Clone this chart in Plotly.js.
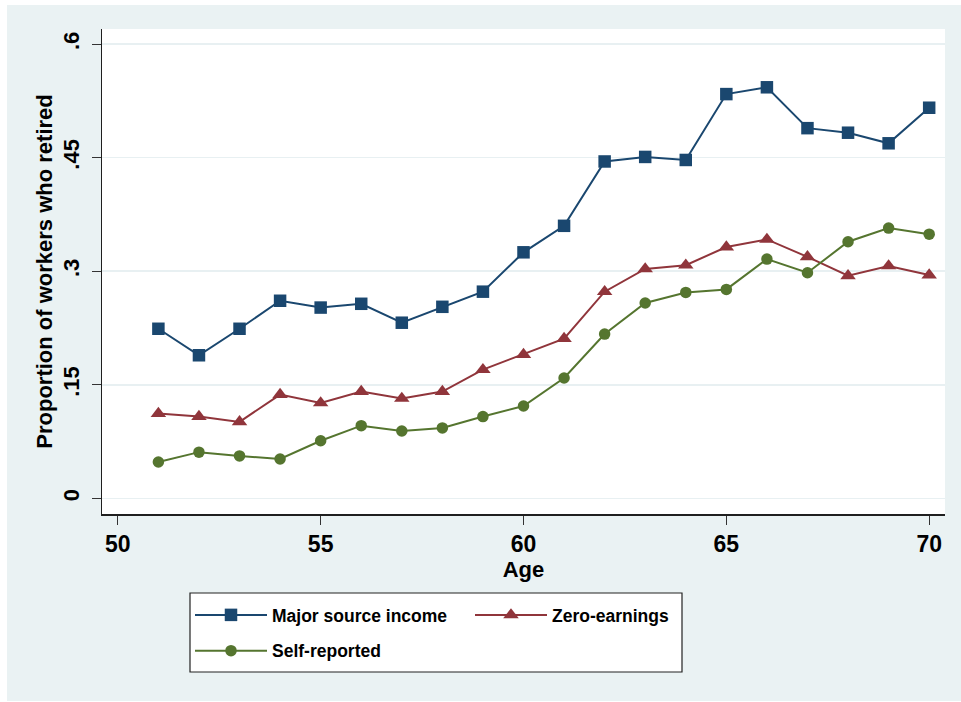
<!DOCTYPE html>
<html>
<head>
<meta charset="utf-8">
<script src="https://cdn.plot.ly/plotly-3.0.1.min.js"></script>
<style>
  html, body { margin: 0; padding: 0; background: #ffffff; }
  #chart { position: absolute; left: 7px; top: 5px; width: 954px; height: 696px; }
</style>
</head>
<body>
<div id="chart"></div>
<script>
// ---- data ----
const ages = [51, 52, 53, 54, 55, 56, 57, 58, 59, 60, 61, 62, 63, 64, 65, 66, 67, 68, 69, 70];
const majorSource = [0.224, 0.189, 0.224, 0.261, 0.252, 0.257, 0.232, 0.253, 0.273, 0.325,
                     0.360, 0.445, 0.451, 0.447, 0.534, 0.543, 0.489, 0.483, 0.469, 0.516];
const zeroEarnings = [0.112, 0.108, 0.101, 0.137, 0.126, 0.141, 0.132, 0.141, 0.170, 0.190,
                      0.211, 0.273, 0.303, 0.308, 0.332, 0.342, 0.319, 0.294, 0.307, 0.295];
const selfReported = [0.048, 0.061, 0.056, 0.052, 0.076, 0.096, 0.089, 0.093, 0.108, 0.122,
                      0.159, 0.217, 0.258, 0.272, 0.276, 0.316, 0.298, 0.339, 0.357, 0.349];
const seriesNames = ["Major source income", "Zero-earnings", "Self-reported"];
const xTickVals = [50, 55, 60, 65, 70];
const xTickText = ["50", "55", "60", "65", "70"];
const yTickVals = [0, 0.15, 0.3, 0.45, 0.6];
const yTickText = ["0", ".15", ".3", ".45", ".6"];

const FONT = "Liberation Sans, Arial, Helvetica, sans-serif";

const traces = [
  { x: ages, y: majorSource, name: seriesNames[0], type: "scatter", mode: "lines+markers",
    legend: "legend", legendgroup: "g1",
    line: { color: "#1A476F", width: 2 },
    marker: { symbol: "square", size: 12.5, color: "#1A476F" } },
  { x: ages, y: zeroEarnings, name: seriesNames[1], type: "scatter", mode: "lines+markers",
    legend: "legend2", legendgroup: "g2",
    line: { color: "#90353B", width: 2 },
    marker: { symbol: "triangle-up", size: 13.5, color: "#90353B" } },
  { x: ages, y: selfReported, name: seriesNames[2], type: "scatter", mode: "lines+markers",
    legend: "legend", legendgroup: "g3",
    line: { color: "#55752F", width: 2 },
    marker: { symbol: "circle", size: 11.5, color: "#55752F" } }
];

const legendFont = { family: FONT, size: 17.5, color: "#000000", weight: "bold" };

const layout = {
  width: 954, height: 696,
  paper_bgcolor: "#EAF2F3",
  plot_bgcolor: "#FFFFFF",
  margin: { l: 95, r: 16, t: 24, b: 187, pad: 0 },
  font: { family: FONT, color: "#000000", size: 20 },
  showlegend: true,
  hovermode: false,
  xaxis: {
    range: [49.61, 70.39],
    tickmode: "array", tickvals: xTickVals, ticktext: xTickText,
    showgrid: false, zeroline: false,
    showline: true, linecolor: "#1f1f1f", linewidth: 1.5,
    ticks: "outside", ticklen: 9, tickwidth: 1, tickcolor: "#333333",
    tickfont: { family: FONT, size: 23, color: "#000000", weight: "bold" },
    title: { text: "Age", font: { family: FONT, size: 22, color: "#000000", weight: "bold" }, standoff: 0 },
    automargin: false
  },
  yaxis: {
    range: [-0.0207, 0.620],
    tickmode: "array", tickvals: yTickVals, ticktext: yTickText,
    tickangle: -90,
    showgrid: true, gridcolor: "#E8F0F2", gridwidth: 1.5,
    zeroline: false,
    showline: true, linecolor: "#1f1f1f", linewidth: 1.5,
    ticks: "outside", ticklen: 9, tickwidth: 1, tickcolor: "#333333",
    ticklabelstandoff: 4,
    tickfont: { family: FONT, size: 22, color: "#000000", weight: "bold" },
    title: { text: "Proportion of workers who retired", font: { family: FONT, size: 22, color: "#000000", weight: "bold" }, standoff: 0 },
    automargin: false
  },
  legend: {
    orientation: "v",
    x: (190 - 102) / 843, xanchor: "left",
    y: (514 - 597) / 485, yanchor: "top",
    bgcolor: "rgba(0,0,0,0)", borderwidth: 0,
    font: legendFont,
    itemwidth: 72,
    traceorder: "grouped", tracegroupgap: 10
  },
  legend2: {
    orientation: "v",
    x: (470 - 102) / 843, xanchor: "left",
    y: (514 - 597) / 485, yanchor: "top",
    bgcolor: "rgba(0,0,0,0)", borderwidth: 0,
    font: legendFont,
    itemwidth: 72
  },
  shapes: [
    { type: "rect", xref: "paper", yref: "paper", layer: "below",
      x0: (190 - 102) / 843, x1: (682 - 102) / 843,
      y0: (514 - 593) / 485, y1: (514 - 672) / 485,
      fillcolor: "#FFFFFF", line: { color: "#222222", width: 1.2 } }
  ]
};

Plotly.newPlot("chart", traces, layout, { displayModeBar: false, staticPlot: true });
</script>
</body>
</html>
